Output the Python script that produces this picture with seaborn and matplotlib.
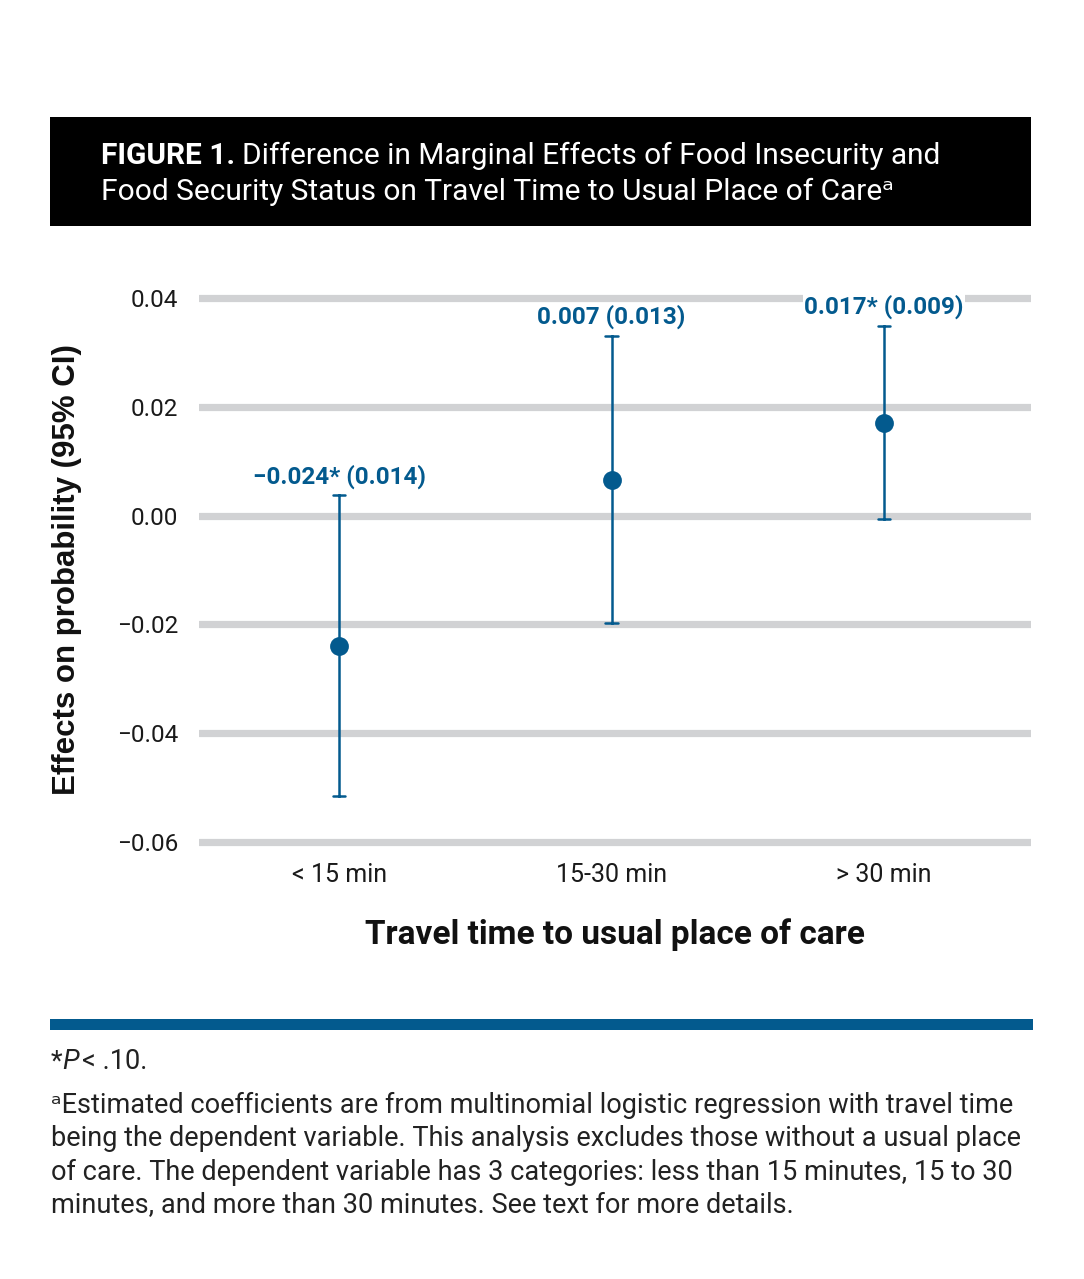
import matplotlib
matplotlib.use("Agg")
import matplotlib.pyplot as plt
import seaborn as sns
import pandas as pd
from matplotlib.patches import Rectangle

# data
categories = ["< 15 min", "15-30 min", "> 30 min"]
estimates = [-0.024, 0.0066, 0.0171]
ci_low = [-0.0515, -0.0197, -0.0006]
ci_high = [0.0037, 0.0331, 0.0349]
point_labels = ["\u22120.024* (0.014)", "0.007 (0.013)", "0.017* (0.009)"]
yticks = [0.04, 0.02, 0.00, -0.02, -0.04, -0.06]

blue = "#035a8e"
grid_gray = "#d1d2d4"

sns.set_theme(style="white")
plt.rcParams["font.family"] = ["Roboto", "DejaVu Sans"]

# long table: low / estimate / high per category -> median = estimate, 0-100 pi = CI
rows = []
for c, lo, e, hi in zip(categories, ci_low, estimates, ci_high):
    for v in (lo, e, hi):
        rows.append({"travel": c, "value": v})
df = pd.DataFrame(rows)

W, H = 1084, 1279
fig = plt.figure(figsize=(W / 100, H / 100), dpi=100)
fig.patch.set_facecolor("white")

# axes placement in pixels
ax_l, ax_r, ax_t, ax_b = 199, 1031, 290, 850
ax = fig.add_axes([ax_l / W, 1 - ax_b / H, (ax_r - ax_l) / W, (ax_b - ax_t) / H])

sns.pointplot(data=df, x="travel", y="value", order=categories,
              estimator="median", errorbar=("pi", 100),
              linestyle="none", markers="o", color=blue,
              markersize=11.5, capsize=0.045,
              err_kws={"linewidth": 1.8}, ax=ax)

ax.set_ylim(-0.06147, 0.04147)
ax.set_xlim(-0.515, 2.54)
ax.set_yticks(yticks)
ax.set_yticklabels([f"{v:.2f}".replace("-", "\u2212") for v in yticks])
ax.yaxis.grid(True, color=grid_gray, linewidth=5.2)
ax.xaxis.grid(False)
ax.set_axisbelow(True)
for s in ax.spines.values():
    s.set_visible(False)
ax.tick_params(axis="y", length=0, pad=15, labelsize=17.5, labelcolor="#1a1a1a")
ax.tick_params(axis="x", length=0, pad=9, labelsize=18, labelcolor="#1a1a1a")

ax.set_xlabel("Travel time to usual place of care", fontsize=24, fontweight="bold",
              color="#111111", labelpad=23)
ax.set_ylabel("Effects on probability (95% CI)", fontsize=22.5, fontweight="bold",
              family=["Liberation Sans", "DejaVu Sans"], color="#111111")
ax.yaxis.set_label_coords(-0.1406, 0.5)

xs = ax.get_xticks()
for x, hi, lab in zip(xs, ci_high, point_labels):
    ax.annotate(lab, xy=(x, hi), xytext=(0, 5), textcoords="offset points",
                ha="center", va="bottom", fontsize=17.5, fontweight="bold", color=blue,
                bbox=dict(facecolor="white", edgecolor="none", pad=1))

# title box
fig.patches.append(Rectangle((50 / W, 1 - 226 / H), (1031 - 50) / W, 109 / H,
                             transform=fig.transFigure, facecolor="black",
                             edgecolor="none", zorder=0))
renderer = fig.canvas.get_renderer()
t1 = fig.text(101 / W, 1 - 164 / H, "FIGURE 1.", color="white", fontsize=21.5,
              fontweight="bold", va="baseline", ha="left")
bb = t1.get_window_extent(renderer)
fig.text((bb.x1 + 7) / W, 1 - 164 / H,
         "Difference in Marginal Effects of Food Insecurity and",
         color="white", fontsize=21.5, va="baseline", ha="left")
fig.text(101 / W, 1 - 200 / H,
         "Food Security Status on Travel Time to Usual Place of Care\u1d43",
         color="white", fontsize=21.5, va="baseline", ha="left")

# blue rule
fig.patches.append(Rectangle((50 / W, 1 - 1030 / H), (1033 - 50) / W, 11 / H,
                             transform=fig.transFigure, facecolor=blue,
                             edgecolor="none"))

# footnotes
fn_size = 19.5
f1 = fig.text(51 / W, 1 - 1069 / H, "*", fontsize=fn_size, color="#222222",
              va="baseline", ha="left")
bb = f1.get_window_extent(renderer)
f2 = fig.text(bb.x1 / W, 1 - 1069 / H, "P", fontsize=fn_size, style="italic",
              color="#222222", va="baseline", ha="left")
bb = f2.get_window_extent(renderer)
fig.text((bb.x1 + 3) / W, 1 - 1069 / H, "< .10.", fontsize=fn_size, color="#222222",
         va="baseline", ha="left")

notes = [
    "\u1d43Estimated coefficients are from multinomial logistic regression with travel time",
    "being the dependent variable. This analysis excludes those without a usual place",
    "of care. The dependent variable has 3 categories: less than 15 minutes, 15 to 30",
    "minutes, and more than 30 minutes. See text for more details.",
]
for i, line in enumerate(notes):
    fig.text(51 / W, 1 - (1113 + 33.3 * i) / H, line, fontsize=fn_size, color="#222222",
             va="baseline", ha="left")

fig.savefig("out.png", dpi=100)
